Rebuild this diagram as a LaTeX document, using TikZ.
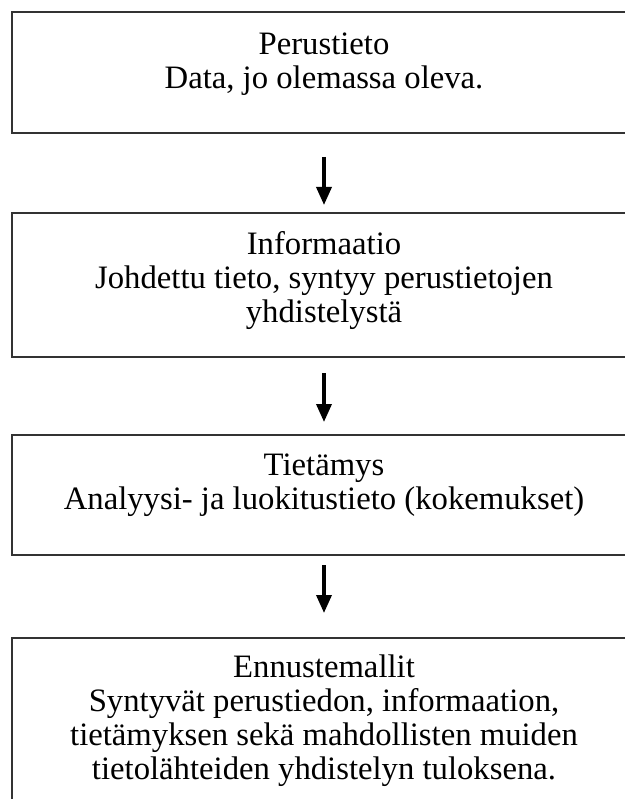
\documentclass[tikz,border=0pt]{standalone}
\usepackage{fontspec}
\setmainfont{Liberation Serif}
\usetikzlibrary{arrows.meta}
\begin{document}
\begin{tikzpicture}[x=1pt, y=-1pt, box/.style={draw=black!80, line width=2pt, minimum width=624pt, inner sep=0pt}, caption/.style={anchor=base, align=center, inner sep=0pt, font=\fontsize{32.7}{34}\selectfont}, flow/.style={line width=3.5pt, -{Triangle[width=15pt,length=18pt]}}]
      \useasboundingbox (0,0) rectangle (624,799);
      \node[box, minimum height=121pt] (b1) at (324, 72.5) {};
      \node[box, minimum height=144pt] (b2) at (324, 285) {};
      \node[box, minimum height=120pt] (b3) at (324, 495) {};
      \node[box, minimum height=192pt] (b4) at (324, 734) {};

      \node[caption] (t1) at (324, 89) {Perustieto\\Data, jo olemassa oleva.};
      \node[caption] (t2) at (324, 322) {Informaatio\\Johdettu tieto, syntyy perustietojen\\yhdistelystä};
      \node[caption] (t3) at (324, 509) {Tietämys\\Analyysi- ja luokitustieto (kokemukset)};
      \node[caption] (t4) at (324, 779) {Ennustemallit\\Syntyvät perustiedon, informaation,\\tietämyksen sekä mahdollisten muiden\\tietolähteiden yhdistelyn tuloksena.};

      \draw[flow, shorten <=23pt, shorten >=7pt] (b1) -- (b2);
      \draw[flow, shorten <=15pt, shorten >=12pt] (b2) -- (b3);
      \draw[flow, shorten <=9pt, shorten >=24pt] (b3) -- (b4);
    \end{tikzpicture}
\end{document}
